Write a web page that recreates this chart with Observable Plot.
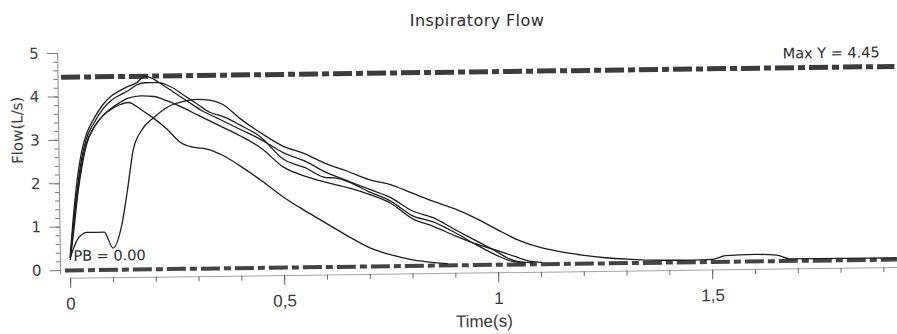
<!DOCTYPE html>
<html>
<head>
<meta charset="utf-8">
<script src="https://cdn.jsdelivr.net/npm/d3@7"></script>
<script src="https://cdn.jsdelivr.net/npm/@observablehq/plot@0.6"></script>
<style>
  body { margin: 0; background: #fff; width: 897px; height: 334px; overflow: hidden; }
  #title {
    position: absolute; left: 477px; top: 12px; transform: translateX(-50%);
    font-family: "DejaVu Sans", sans-serif; font-size: 16px; letter-spacing: 0.4px;
    color: #2a2a2a; white-space: nowrap; line-height: 18px;
  }
  #chart { position: absolute; left: 0; top: 34px; }
  #chart svg { overflow: visible; transform-origin: 60px 236px; transform: rotate(-0.75deg); }
</style>
</head>
<body>
<div id="title">Inspiratory Flow</div>
<div id="chart"></div>
<script>
// Inspiratory flow (L/s) against time (s) for five breaths: [time, flow]
const breathA = [[0,0.35],[0.01,1.4],[0.02,2.2],[0.03,2.75],[0.04,3.1],[0.06,3.5],[0.08,3.8],[0.1,4.0],[0.12,4.12],[0.14,4.22],[0.16,4.3],[0.18,4.45],[0.2,4.38],[0.22,4.25],[0.25,4.05],[0.28,3.85],[0.31,3.65],[0.35,3.45],[0.4,3.2],[0.45,2.95],[0.5,2.65],[0.55,2.45],[0.6,2.18],[0.65,1.98],[0.7,1.78],[0.75,1.58],[0.8,1.27],[0.85,1.1],[0.9,0.82],[0.95,0.55],[1.0,0.28],[1.02,0.16],[1.05,0.06],[1.08,0.04]];
const breathB = [[0,0.3],[0.01,1.2],[0.02,2.0],[0.03,2.6],[0.04,3.0],[0.06,3.4],[0.08,3.7],[0.1,3.9],[0.12,4.02],[0.14,4.12],[0.16,4.25],[0.18,4.3],[0.21,4.3],[0.24,4.2],[0.27,4.0],[0.3,3.8],[0.33,3.6],[0.36,3.5],[0.4,3.3],[0.45,3.0],[0.5,2.5],[0.55,2.3],[0.6,2.06],[0.62,2.05],[0.66,1.92],[0.7,1.72],[0.75,1.5],[0.8,1.16],[0.85,1.0],[0.9,0.75],[0.95,0.46],[1.0,0.2],[1.03,0.08],[1.06,0.04]];
const breathC = [[0,0.25],[0.01,1.0],[0.02,1.8],[0.03,2.4],[0.04,2.85],[0.06,3.3],[0.08,3.55],[0.1,3.72],[0.12,3.85],[0.14,3.95],[0.17,4.0],[0.2,3.98],[0.23,3.88],[0.26,3.75],[0.3,3.55],[0.35,3.3],[0.4,3.05],[0.45,2.75],[0.5,2.32],[0.55,2.1],[0.6,1.95],[0.65,1.82],[0.7,1.66],[0.75,1.45],[0.8,1.09],[0.85,0.9],[0.9,0.68],[0.95,0.48],[1.0,0.32],[1.04,0.18],[1.07,0.08],[1.1,0.04]];
const breathD = [[0,0.3],[0.01,1.2],[0.02,1.9],[0.03,2.5],[0.04,2.9],[0.06,3.3],[0.08,3.55],[0.1,3.7],[0.12,3.8],[0.14,3.85],[0.17,3.68],[0.2,3.47],[0.23,3.22],[0.26,2.92],[0.29,2.8],[0.32,2.76],[0.36,2.6],[0.4,2.35],[0.45,2.0],[0.5,1.62],[0.55,1.3],[0.6,1.0],[0.65,0.7],[0.7,0.43],[0.75,0.26],[0.8,0.14],[0.85,0.07],[0.88,0.04]];
const breathE = [[0,0.3],[0.02,0.75],[0.04,0.87],[0.08,0.87],[0.1,0.5],[0.12,0.98],[0.135,1.8],[0.15,2.75],[0.17,3.2],[0.2,3.5],[0.235,3.75],[0.27,3.86],[0.3,3.9],[0.33,3.88],[0.36,3.78],[0.4,3.45],[0.45,3.1],[0.5,2.8],[0.55,2.62],[0.6,2.38],[0.65,2.2],[0.7,2.0],[0.75,1.88],[0.8,1.68],[0.85,1.48],[0.9,1.3],[0.95,1.07],[1.0,0.8],[1.05,0.55],[1.1,0.38],[1.15,0.27],[1.2,0.19],[1.25,0.13],[1.3,0.09],[1.35,0.06],[1.45,0.05],[1.5,0.06],[1.53,0.14],[1.6,0.16],[1.65,0.14],[1.68,0.05],[1.93,0.04]];

const breaths = {A: breathA, B: breathB, C: breathC, D: breathD, E: breathE};

// Reference levels and their labels
const maxY = 4.45;
const pb = 0.00;

// Axis ticks
const yTicks = [0, 1, 2, 3, 4, 5];
const xTicks = [0, 0.5, 1, 1.5];
const xTickLabels = ["0", "0,5", "1", "1,5"];

const xMin = -0.0234, xMax = 1.932;
const yMin = -0.184, yMax = 5.05;

const rows = Object.entries(breaths).flatMap(([id, pts]) => pts.map(([t, v]) => ({breath: id, t, v})));
const narrow = "'Liberation Sans Narrow', 'Liberation Sans', Arial, sans-serif";

const chart = Plot.plot({
  width: 897,
  height: 300,
  marginLeft: 60,
  marginRight: 0,
  marginTop: 16.8,
  marginBottom: 56,
  x: {domain: [xMin, xMax]},
  y: {domain: [yMin, yMax]},
  style: {fontFamily: "'DejaVu Sans', sans-serif", color: "#3a3a3a", background: "transparent"},
  marks: [
    // y axis: line, minor and major ticks
    Plot.ruleX([xMin], {y1: -0.1, y2: 5.0, stroke: "#8a8a8a", strokeWidth: 1}),
    Plot.axisY({ticks: d3.range(0, 5.001, 0.2), tickSize: 4, tickFormat: () => "", stroke: "#777", label: null}),
    Plot.axisY({ticks: yTicks, tickSize: 10, tickPadding: 9, tickFormat: d => String(d), fontSize: 15, stroke: "#777", label: null}),
    Plot.text(["Flow(L/s)"], {frameAnchor: "left", y: 2.47, dx: -41, rotate: -90, fontSize: 15, fill: "#3a3a3a"}),
    // x axis: line, minor and major ticks
    Plot.ruleY([yMin], {x1: 0, x2: xMax, stroke: "#a5a5a5", strokeWidth: 1}),
    Plot.axisX({ticks: d3.range(0, xMax, 0.1), tickSize: 5, tickFormat: () => "", stroke: "#666", label: null}),
    Plot.axisX({ticks: xTicks, tickSize: 10, tickPadding: 9, tickFormat: (d, i) => xTickLabels[i],
      fontSize: 17, fontFamily: narrow, stroke: "#666", label: null}),
    Plot.text(["Time(s)"], {frameAnchor: "bottom", x: 0.965, dy: 54, fontSize: 17, fontFamily: narrow, fill: "#3a3a3a"}),
    // reference levels
    Plot.ruleY([maxY], {x1: -0.015, x2: xMax, stroke: "#3c3c3c", strokeWidth: 5, strokeDasharray: "19,4,7,4"}),
    Plot.ruleY([pb], {x1: -0.012, x2: xMax, stroke: "#444", strokeWidth: 4, strokeDasharray: "19,4,7,4"}),
    // flow curves
    Plot.line(rows, {x: "t", y: "v", z: "breath", stroke: "#1e1e1e", strokeWidth: 1.3, curve: "monotone-x"}),
    // labels for the reference levels
    Plot.text([maxY], {x: 1.897, y: d => d, text: d => `Max Y = ${d.toFixed(2)}`, textAnchor: "end", dy: -14, fontSize: 14.5, fill: "#2e2e2e"}),
    Plot.text([pb], {x: 0.007, y: d => d, text: d => `PB = ${d.toFixed(2)}`, textAnchor: "start", dy: -14, fontSize: 14.5, fill: "#2e2e2e"})
  ]
});

document.getElementById("chart").append(chart);
</script>
</body>
</html>
